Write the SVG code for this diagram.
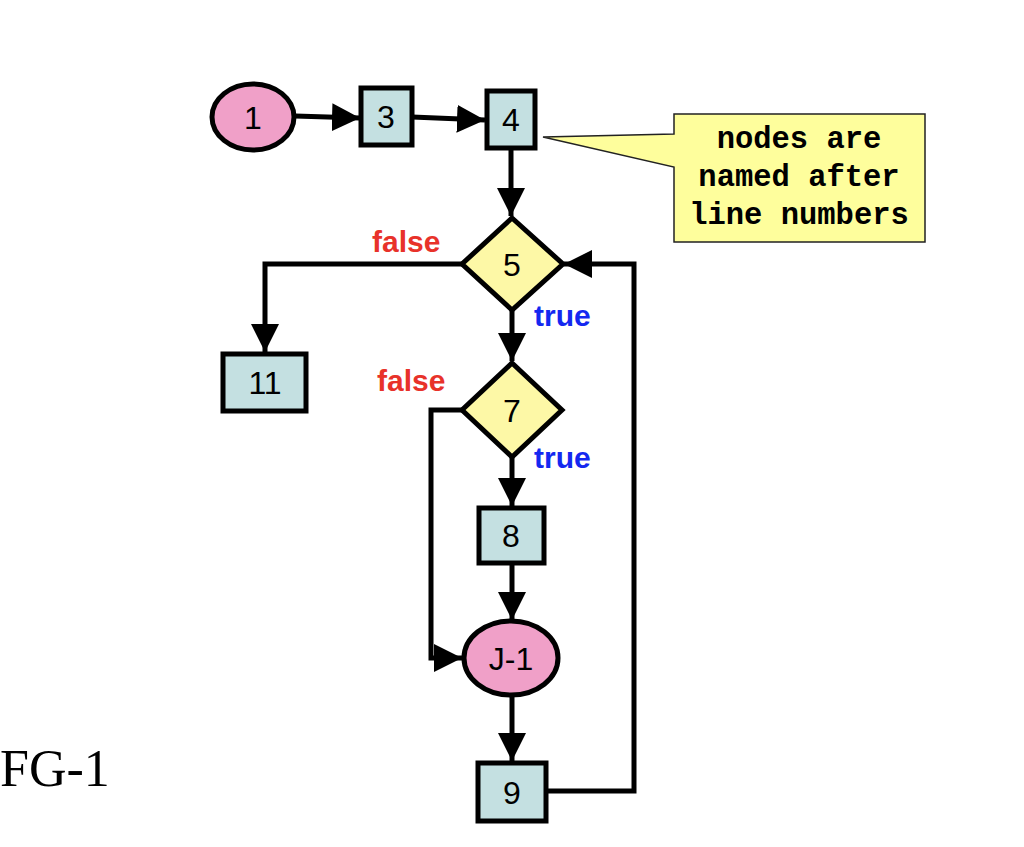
<svg xmlns="http://www.w3.org/2000/svg" width="1024" height="847" viewBox="0 0 1024 847">
<style>
.box{fill:#c4e0e1;stroke:#000;stroke-width:5}
.oval{fill:#f0a0c8;stroke:#000;stroke-width:5}
.dia{fill:#fdf8a6;stroke:#000;stroke-width:5;stroke-linejoin:miter}
.lbl{font-family:"Liberation Sans",Arial,sans-serif;font-size:32px;fill:#000;text-anchor:middle}
.edge{fill:none;stroke:#000;stroke-width:5;marker-end:url(#ah)}
.f{font-family:"Liberation Sans",Arial,sans-serif;font-size:30px;font-weight:bold;fill:#e8322a}
.t{font-family:"Liberation Sans",Arial,sans-serif;font-size:30px;font-weight:bold;fill:#1428f0}
.note{font-family:"Liberation Mono","Courier New",monospace;font-size:30.5px;font-weight:bold;fill:#000;text-anchor:middle}
</style>
<defs>
<marker id="ah" markerUnits="userSpaceOnUse" markerWidth="30" markerHeight="28" refX="28" refY="14" orient="auto">
<path d="M0,0 L28,14 L0,28 Z" fill="#000"/>
</marker>
</defs>
<rect width="1024" height="847" fill="#fff"/>
<g id="connectors">
<path class="edge" d="M295,116 L360,118"/>
<path class="edge" d="M412,117 L485,120"/>
<path class="edge" d="M511,148 L511,216"/>
<path class="edge" d="M462,264 L265,264 L265,352"/>
<path class="edge" d="M512,310 L512,361"/>
<path class="edge" d="M462,410 L431,410 L431,658 L462,658"/>
<path class="edge" d="M512,457 L512,506"/>
<path class="edge" d="M512,563 L512,620"/>
<path class="edge" d="M512,695 L512,761"/>
<path class="edge" d="M546,791 L634,791 L634,264 L564,264"/>
</g>
<g id="n1"><ellipse class="oval" cx="253" cy="117" rx="41" ry="33"/><text class="lbl" x="253" y="129">1</text></g>
<g id="n3"><rect class="box" x="361" y="88" width="51" height="57"/><text class="lbl" x="386" y="128">3</text></g>
<g id="n4"><rect class="box" x="487" y="91" width="48" height="57"/><text class="lbl" x="511" y="131">4</text></g>
<g id="n5"><path class="dia" d="M512,218 L563,264 L512,310 L462,264 Z"/><text class="lbl" x="512" y="276">5</text></g>
<g id="n11"><rect class="box" x="223" y="354" width="83" height="57"/><text class="lbl" x="265" y="394">11</text></g>
<g id="n7"><path class="dia" d="M512,363 L562,410 L512,457 L462,410 Z"/><text class="lbl" x="512" y="422">7</text></g>
<g id="n8"><rect class="box" x="479" y="508" width="65" height="55"/><text class="lbl" x="511" y="547">8</text></g>
<g id="nJ1"><ellipse class="oval" cx="511" cy="658" rx="47" ry="37"/><text class="lbl" x="511" y="670">J-1</text></g>
<g id="n9"><rect class="box" x="478" y="763" width="68" height="58"/><text class="lbl" x="512" y="804">9</text></g>
<g id="labels">
<text class="f" x="372" y="252">false</text>
<text class="t" x="534" y="326">true</text>
<text class="f" x="377" y="391">false</text>
<text class="t" x="534" y="468">true</text>
</g>
<g id="note">
<path d="M674,114 L925,114 L925,242 L674,242 L674,167 L543,137 L674,134 Z" fill="#fefe9c" stroke="#222" stroke-width="1.5"/>
<text class="note" x="799" y="148">nodes are</text>
<text class="note" x="799" y="186">named after</text>
<text class="note" x="799" y="224">line numbers</text>
</g>
<text x="0" y="786" font-family="Liberation Serif,'Times New Roman',serif" font-size="52" fill="#000">FG-1</text>
</svg>
